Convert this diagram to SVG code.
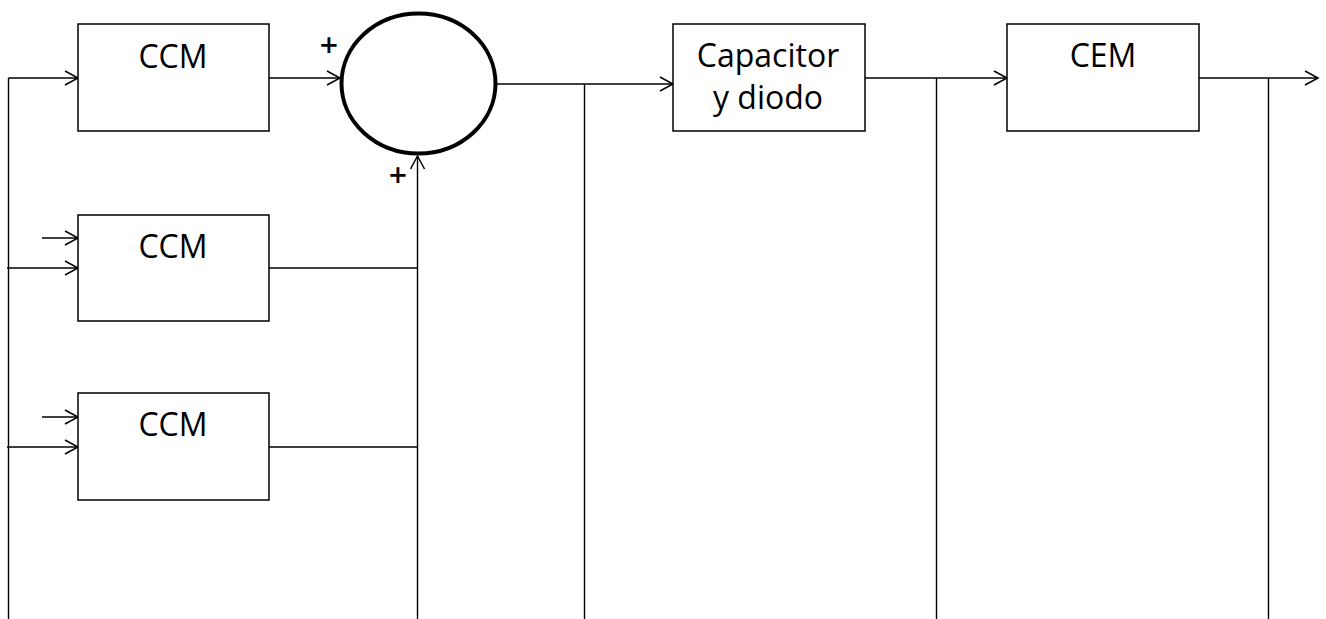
<svg xmlns="http://www.w3.org/2000/svg" width="1326" height="619" viewBox="0 0 1326 619">
  <style>
    .box { fill: #ffffff; stroke: #000000; stroke-width: 1.5; }
    .lbl { font-family: "Open Sans", "Liberation Sans", sans-serif; font-size: 32px; fill: #000000; text-anchor: middle; }
    .sign { font-family: "Open Sans", "Liberation Sans", sans-serif; font-size: 32px; font-weight: 600; fill: #000000; text-anchor: middle; }
    .wire { fill: none; stroke: #000000; stroke-width: 1.4; }
    .arrow { fill: none; stroke: #000000; stroke-width: 1.4; marker-end: url(#head); }
  </style>
  <defs>
    <marker id="head" markerUnits="userSpaceOnUse" markerWidth="20" markerHeight="20" viewBox="-16 -10 20 20" refX="0" refY="0" orient="auto">
      <path d="M-13,-7 L0,0 L-13,7" fill="none" stroke="#000000" stroke-width="1.5"/>
    </marker>
  </defs>

  <rect width="1326" height="619" fill="#ffffff"/>

  <!-- connectors -->
  <g id="connectors">
    <!-- left feed bus -->
    <path class="wire" d="M8.5,619 V78"/>
    <path class="arrow" d="M8.5,78 H78"/>
    <path class="arrow" d="M7,268 H78"/>
    <path class="arrow" d="M42,238 H78"/>
    <path class="arrow" d="M7,447 H78"/>
    <path class="arrow" d="M42,417 H78"/>
    <!-- CCM outputs into the summing junction -->
    <path class="arrow" d="M269,78 H340"/>
    <path class="wire" d="M269,268 H417.5"/>
    <path class="wire" d="M269,447 H417.5"/>
    <path class="arrow" d="M417.5,619 V156"/>
    <!-- summer to capacitor / diode stage -->
    <path class="arrow" d="M497,84 H673"/>
    <path class="wire" d="M584.5,84 V619"/>
    <!-- capacitor stage to CEM -->
    <path class="arrow" d="M865,78 H1007"/>
    <path class="wire" d="M936.5,78 V619"/>
    <!-- CEM output -->
    <path class="arrow" d="M1199,78 H1318"/>
    <path class="wire" d="M1268.5,78 V619"/>
  </g>

  <!-- nodes -->
  <g id="ccm-1">
    <rect class="box" x="78" y="24" width="191" height="107"/>
    <text class="lbl" x="173" y="68">CCM</text>
  </g>
  <g id="ccm-2">
    <rect class="box" x="78" y="215" width="191" height="106"/>
    <text class="lbl" x="173" y="258">CCM</text>
  </g>
  <g id="ccm-3">
    <rect class="box" x="78" y="393" width="191" height="107"/>
    <text class="lbl" x="173" y="436">CCM</text>
  </g>
  <g id="summer">
    <ellipse cx="418.5" cy="83.5" rx="77" ry="70" fill="#ffffff" stroke="#000000" stroke-width="4"/>
    <text class="sign" x="329" y="57">+</text>
    <text class="sign" x="398" y="187">+</text>
  </g>
  <g id="capacitor-diodo">
    <rect class="box" x="673" y="24" width="192" height="107"/>
    <text class="lbl" x="768" y="67">Capacitor</text>
    <text class="lbl" x="768" y="109">y diodo</text>
  </g>
  <g id="cem">
    <rect class="box" x="1007" y="24" width="192" height="107"/>
    <text class="lbl" x="1103" y="67">CEM</text>
  </g>
</svg>
